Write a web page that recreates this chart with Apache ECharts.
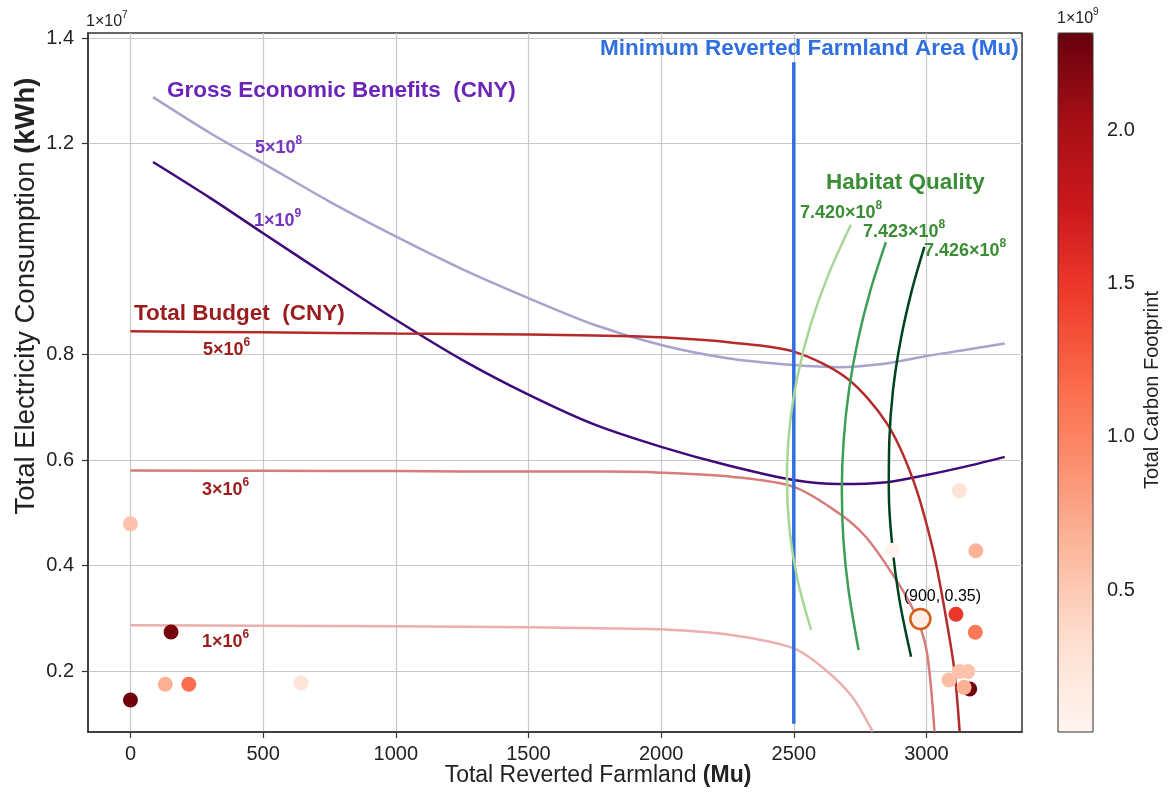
<!DOCTYPE html>
<html>
<head>
<meta charset="utf-8">
<script src="https://cdn.jsdelivr.net/npm/echarts@6/dist/echarts.min.js"></script>
<style>
  html, body { margin: 0; padding: 0; background: #fff; }
  #chart { width: 1168px; height: 798px; }
</style>
</head>
<body>
<div id="chart"></div>
<script>
// axis ticks (y in units of 1e7 kWh, colour bar in units of 1e9)
const xTicks = [0, 500, 1000, 1500, 2000, 2500, 3000];
const yTicks = [0.2, 0.4, 0.6, 0.8, 1.2, 1.4];
const cbarTicks = [0.5, 1.0, 1.5, 2.0];

// Gross Economic Benefits contours
const geb5e8 = [[85,1.288],[300,1.22],[500,1.1625],[750,1.09],[1000,1.024],[1250,0.962],[1500,0.907],[1750,0.856],[2000,0.818],[2250,0.793],[2500,0.780],[2670,0.776],[2850,0.783],[3000,0.797],[3150,0.809],[3295,0.821]];
const geb1e9 = [[85,1.165],[300,1.097],[500,1.030],[750,0.947],[1000,0.866],[1250,0.790],[1500,0.724],[1750,0.667],[2000,0.625],[2250,0.590],[2500,0.562],[2670,0.5545],[2850,0.558],[3000,0.5716],[3150,0.588],[3295,0.606]];

// Total Budget contours
const budget5e6 = [[0,0.844],[500,0.842],[1000,0.840],[1500,0.838],[1750,0.836],[2000,0.8326],[2270,0.8225],[2500,0.8054],[2700,0.755],[2850,0.670],[2950,0.562],[3025,0.429],[3073,0.303],[3105,0.202],[3125,0.085]];
const budget3e6 = [[0,0.580],[500,0.5795],[1000,0.579],[1500,0.578],[1770,0.578],[2000,0.576],[2270,0.568],[2500,0.549],[2670,0.499],[2770,0.455],[2870,0.385],[2950,0.316],[3000,0.240],[3030,0.085]];
const budget1e6 = [[0,0.287],[500,0.286],[1000,0.285],[1500,0.283],[1770,0.281],[2000,0.279],[2270,0.268],[2500,0.243],[2620,0.202],[2720,0.151],[2797,0.085]];

// minimum reverted farmland area
const minArea = [[2500,0.100],[2500,1.354]];

// Habitat Quality contours
const hq7420 = [[2715,1.046],[2630,0.951],[2563,0.856],[2515,0.761],[2485,0.666],[2474,0.565],[2484,0.467],[2514,0.373],[2565,0.278]];
const hq7423 = [[2847,1.013],[2789,0.922],[2742,0.828],[2708,0.733],[2688,0.638],[2681,0.543],[2687,0.448],[2706,0.354],[2744,0.240]];
const hq7426 = [[2992,1.004],[2945,0.922],[2903,0.828],[2874,0.733],[2860,0.638],[2858,0.543],[2869,0.448],[2898,0.335],[2942,0.227]];

// solutions: [farmland, electricity, carbon footprint]
const solutions = [
  [0, 0.479, 0.55],
  [0, 0.145, 2.28],
  [153, 0.274, 2.25],
  [131, 0.175, 0.68],
  [220, 0.175, 1.15],
  [643, 0.178, 0.25],
  [2872, 0.429, 0.06],
  [3124, 0.542, 0.28],
  [3186, 0.428, 0.66],
  [3111, 0.3075, 1.50],
  [3184, 0.2734, 1.08],
  [3163, 0.166, 2.28],
  [3124, 0.199, 0.55],
  [3156, 0.199, 0.55],
  [3085, 0.183, 0.58],
  [3142, 0.169, 0.68]
];
const optimum = [[2977, 0.2986]];

const reds = ['#fff5f0','#fee0d2','#fcbba1','#fc9272','#fb6a4a','#ef3b2c','#cb181d','#a50f15','#67000d'];
const FONT = '"Liberation Sans", Arial, sans-serif';

function curve(name, data, color, width) {
  return {
    name, type: 'line', data, smooth: 0.3, symbol: 'none', silent: true,
    lineStyle: { color, width }, z: 3
  };
}

// text with an optional superscript part
function txt(x, y, base, sup, color, size, bold) {
  const w = bold ? 'bold' : 'normal';
  return {
    type: 'text', x, y, z: 20, silent: true,
    style: {
      text: sup ? '{n|' + base + '}{s|' + sup + '}' : '{n|' + base + '}',
      align: 'left', verticalAlign: 'middle',
      rich: {
        n: { fontSize: size, fontWeight: w, fontFamily: FONT, fill: color, lineHeight: size + 4, verticalAlign: 'bottom' },
        s: { fontSize: Math.round(size * 0.65), fontWeight: w, fontFamily: FONT, fill: color, verticalAlign: 'top' }
      }
    }
  };
}

const purple = '#6a25b8', purpleLbl = '#7535bd', budgetRed = '#9b1c1c', green = '#3a8c35', blue = '#2f6fe0';

const chart = echarts.init(document.getElementById('chart'), null, { renderer: 'canvas' });
chart.setOption({
  animation: false,
  backgroundColor: '#fff',
  grid: [
    { left: 88, top: 33, width: 934, height: 699, show: true, borderColor: '#333', borderWidth: 1.5, backgroundColor: '#fff' },
    { left: 1058, top: 33, width: 35, height: 699, show: true, borderColor: '#333', borderWidth: 1, backgroundColor: 'transparent', z: 10 }
  ],
  xAxis: [
    {
      type: 'value', min: -160, max: 3360,
      axisLine: { show: true, onZero: false, lineStyle: { color: '#333', width: 1.5 } },
      axisTick: { show: true, length: 6, customValues: xTicks, lineStyle: { color: '#333', width: 1.2 } },
      axisLabel: { customValues: xTicks, fontSize: 20, color: '#222', margin: 12, fontFamily: FONT, formatter: v => String(v) },
      splitLine: { show: true, lineStyle: { color: '#c8c8c8', width: 1.2 } }
    },
    { gridIndex: 1, type: 'value', show: false, min: 0, max: 1 }
  ],
  yAxis: [
    {
      type: 'value', min: 0.0844, max: 1.4095,
      axisLine: { show: true, onZero: false, lineStyle: { color: '#333', width: 1.5 } },
      axisTick: { show: true, length: 6, customValues: yTicks, lineStyle: { color: '#333', width: 1.2 } },
      axisLabel: { customValues: yTicks, fontSize: 20, color: '#222', margin: 14, fontFamily: FONT, formatter: v => v.toFixed(1) },
      splitLine: { show: true, lineStyle: { color: '#c8c8c8', width: 1.2 } }
    },
    {
      gridIndex: 1, type: 'value', position: 'right', min: 0.036, max: 2.32,
      axisLine: { show: false },
      axisTick: { show: true, length: 7, customValues: cbarTicks, lineStyle: { color: '#333', width: 1.2 } },
      axisLabel: { customValues: cbarTicks, fontSize: 20, color: '#222', margin: 14, fontFamily: FONT, formatter: v => v.toFixed(1) },
      splitLine: { show: false }
    }
  ],
  visualMap: {
    type: 'continuous', min: 0.036, max: 2.32, dimension: 2, seriesIndex: 9,
    left: 1058, top: 33, itemWidth: 35, itemHeight: 699, padding: 0,
    calculable: false, hoverLink: false, inRange: { color: reds }
  },
  series: [
    curve('5e8', geb5e8, '#a6a3cc', 2.5),
    curve('1e9', geb1e9, '#3f0a7a', 2.5),
    curve('b5e6', budget5e6, '#b52a2a', 2.5),
    curve('b3e6', budget3e6, '#d87b7b', 2.5),
    curve('b1e6', budget1e6, '#eab0b0', 2.5),
    { name: 'min', type: 'line', data: minArea, symbol: 'none', silent: true, lineStyle: { color: blue, width: 3.5 }, z: 3 },
    curve('h7420', hq7420, '#a6d796', 2.5),
    curve('h7423', hq7423, '#3d9e55', 2.5),
    curve('h7426', hq7426, '#00441b', 2.5),
    { name: 'solutions', type: 'scatter', data: solutions, symbolSize: 15, z: 5, silent: true, itemStyle: { opacity: 1 } },
    {
      name: 'optimum', type: 'scatter', data: optimum, symbolSize: 20, z: 6, silent: true,
      itemStyle: { color: '#fdeee6', borderColor: '#d2601a', borderWidth: 2.5, opacity: 1 },
      label: { show: true, position: 'top', distance: 3, offset: [22, 0], formatter: '(900, 0.35)', fontSize: 16, color: '#000', fontFamily: FONT }
    }
  ],
  graphic: [
    txt(86, 20, '1×10', '7', '#222', 16, false),
    txt(1057, 17, '1×10', '9', '#222', 16, false),
    txt(600, 47, 'Minimum Reverted Farmland Area (Mu)', '', blue, 22.5, true),
    txt(167, 89, 'Gross Economic Benefits  (CNY)', '', purple, 22.5, true),
    txt(255, 146, '5×10', '8', purpleLbl, 18, true),
    txt(254, 219, '1×10', '9', purpleLbl, 18, true),
    txt(134, 312, 'Total Budget  (CNY)', '', budgetRed, 22.5, true),
    txt(203, 348, '5×10', '6', budgetRed, 18, true),
    txt(202, 488, '3×10', '6', budgetRed, 18, true),
    txt(202, 640, '1×10', '6', budgetRed, 18, true),
    txt(826, 181, 'Habitat Quality', '', green, 22.5, true),
    txt(800, 211, '7.420×10', '8', green, 18, true),
    txt(863, 230, '7.423×10', '8', green, 18, true),
    txt(924, 249, '7.426×10', '8', green, 18, true),
    {
      type: 'text', x: 598, y: 776, z: 20, silent: true,
      style: {
        text: '{n|Total Reverted Farmland }{b|(Mu)}', align: 'center', verticalAlign: 'middle',
        rich: {
          n: { fontSize: 23, fontFamily: FONT, fill: '#222' },
          b: { fontSize: 23, fontFamily: FONT, fontWeight: 'bold', fill: '#222' }
        }
      }
    },
    {
      type: 'text', x: 26, y: 296, rotation: Math.PI / 2, z: 20, silent: true,
      style: {
        text: '{n|Total Electricity Consumption }{b|(kWh)}', align: 'center', verticalAlign: 'middle',
        rich: {
          n: { fontSize: 27.5, fontFamily: FONT, fill: '#222' },
          b: { fontSize: 27.5, fontFamily: FONT, fontWeight: 'bold', fill: '#222' }
        }
      }
    },
    {
      type: 'text', x: 1152, y: 390, rotation: Math.PI / 2, z: 20, silent: true,
      style: { text: 'Total Carbon Footprint', align: 'center', verticalAlign: 'middle', fontSize: 20, fontFamily: FONT, fill: '#222' }
    }
  ]
});
</script>
</body>
</html>
